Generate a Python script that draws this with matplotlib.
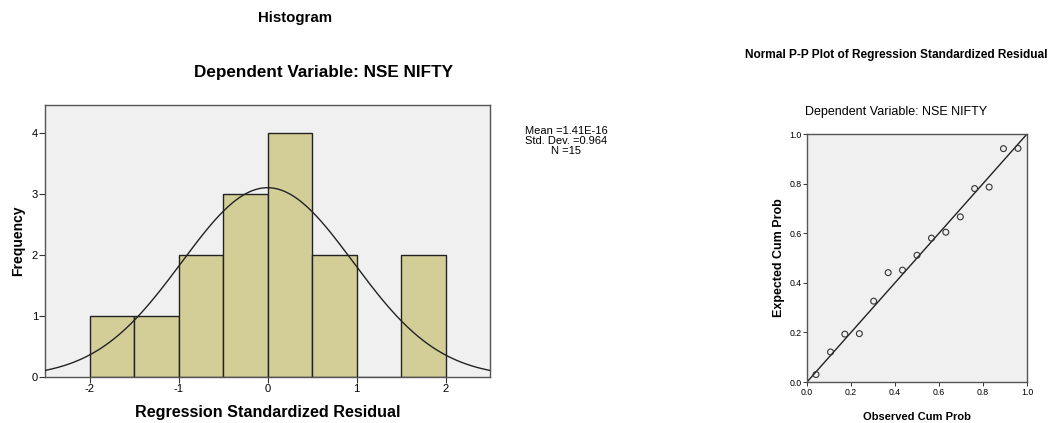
import numpy as np
import matplotlib
matplotlib.use("Agg")
import matplotlib.pyplot as plt

plt.rcParams['font.family'] = ['Liberation Sans', 'DejaVu Sans']

# Histogram of standardized residuals
bin_edges = [-2.0, -1.5, -1.0, -0.5, 0.0, 0.5, 1.0, 1.5, 2.0]
bin_counts = [1, 1, 2, 3, 4, 2, 0, 2]
resid_mean = 1.41e-16
resid_sd = 0.964
n_obs = 15
hist_xticks = [-2, -1, 0, 1, 2]
hist_yticks = [0, 1, 2, 3, 4]

# Normal P-P plot points
observed_cum = [0.041, 0.107, 0.172, 0.238, 0.303, 0.369, 0.434, 0.500,
                0.566, 0.631, 0.697, 0.762, 0.828, 0.893, 0.959]
expected_cum = [0.030, 0.121, 0.193, 0.195, 0.326, 0.441, 0.451, 0.511,
                0.580, 0.604, 0.666, 0.780, 0.786, 0.941, 0.942]
pp_ticks = [0.0, 0.2, 0.4, 0.6, 0.8, 1.0]

W, H = 1054, 423
fig = plt.figure(figsize=(W / 100, H / 100), dpi=100)

def box(x0, y0, x1, y1):
    return [x0 / W, 1 - y1 / H, (x1 - x0) / W, (y1 - y0) / H]

bg = '#F0F0F0'
bar_fill = '#D3CE98'
frame = '#555555'

# ---- Histogram ----
ax = fig.add_axes(box(45, 105, 490, 377))
ax.set_facecolor(bg)
widths = np.diff(bin_edges)
ax.bar(bin_edges[:-1], bin_counts, width=widths, align='edge',
       color=bar_fill, edgecolor='#222222', linewidth=1.0, zorder=2)
xs = np.linspace(-2.5, 2.5, 400)
bw = widths[0]
curve = n_obs * bw / (resid_sd * np.sqrt(2 * np.pi)) * np.exp(-0.5 * ((xs - resid_mean) / resid_sd) ** 2)
ax.plot(xs, curve, color='#222222', linewidth=1.0, zorder=3)
ax.set_xlim(-2.5, 2.5)
ax.set_ylim(0, 4.46)
ax.set_xticks(hist_xticks)
ax.set_xticklabels([str(t) for t in hist_xticks])
ax.set_yticks(hist_yticks)
ax.tick_params(labelsize=8, length=4, width=0.8, color='#333333', pad=1)
for s in ax.spines.values():
    s.set_color(frame)
    s.set_linewidth(1.0)
ax.set_xlabel('Regression Standardized Residual', fontsize=11.6, fontweight='bold', labelpad=8)
ax.set_ylabel('Frequency', fontsize=10, fontweight='bold', labelpad=5)

fig.text(295 / W, 1 - 18 / H, 'Histogram', ha='center', va='center',
         fontsize=10.8, fontweight='bold')
fig.text(323 / W, 1 - 72 / H, 'Dependent Variable: NSE NIFTY', ha='center', va='center',
         fontsize=12.3, fontweight='bold')
fig.text(566 / W, 1 - 141 / H,
         'Mean =%.2E\nStd. Dev. =%.3f\nN =%d' % (resid_mean, resid_sd, n_obs),
         ha='center', va='center', fontsize=8, linespacing=1.05)

# ---- P-P plot ----
ax2 = fig.add_axes(box(807, 134, 1027, 382))
ax2.set_facecolor(bg)
ax2.plot([0, 1], [0, 1], color='#222222', linewidth=1.0, zorder=2)
ax2.scatter(observed_cum, expected_cum, s=18, facecolors='none',
            edgecolors='#333333', linewidths=0.8, zorder=3)
ax2.set_xlim(0, 1)
ax2.set_ylim(0, 1)
ax2.set_xticks(pp_ticks)
ax2.set_yticks(pp_ticks)
ax2.set_xticklabels(['%.1f' % t for t in pp_ticks])
ax2.set_yticklabels(['%.1f' % t for t in pp_ticks])
ax2.tick_params(labelsize=6.3, length=3, width=0.7, color='#333333', pad=1)
for s in ax2.spines.values():
    s.set_color(frame)
    s.set_linewidth(1.0)
ax2.set_xlabel('Observed Cum Prob', fontsize=8, fontweight='bold', labelpad=11)
ax2.set_ylabel('Expected Cum Prob', fontsize=9, fontweight='bold', labelpad=3)

fig.text(896 / W, 1 - 55 / H, 'Normal P-P Plot of Regression Standardized Residual',
         ha='center', va='center', fontsize=8.6, fontweight='bold')
fig.text(896 / W, 1 - 112 / H, 'Dependent Variable: NSE NIFTY',
         ha='center', va='center', fontsize=9)

fig.savefig('out.png', dpi=100)
